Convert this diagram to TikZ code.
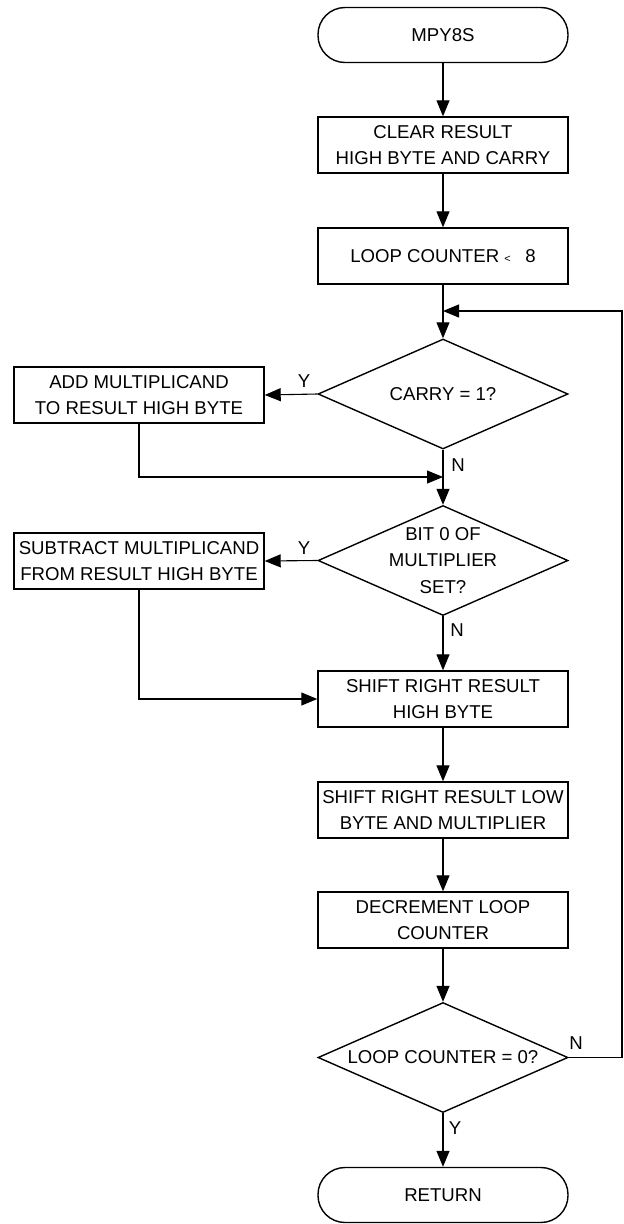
\documentclass[tikz,border=0pt]{standalone}
\usepackage{fontspec}
\setmainfont{Liberation Sans}
\usetikzlibrary{shapes.geometric,arrows.meta}
\begin{document}
\begin{tikzpicture}[x=1pt,y=-1pt,
  every node/.style={font=\fontsize{18.6}{26.5}\selectfont},
  box/.style={draw, line width=1.4pt, minimum width=250pt, minimum height=56pt, inner sep=2pt, align=center},
  term/.style={box, rounded corners=27pt, minimum height=55pt},
  dia/.style={draw, diamond, line width=1.4pt, minimum width=250pt, minimum height=110pt, inner sep=0pt},
  txt/.style={align=center},
  arr/.style={line width=1.1pt, -{Triangle[length=16pt,width=13pt]}},
  lbl/.style={inner sep=0pt}]
\useasboundingbox (0,0) rectangle (624,1224);
\node[term] (start) at (443,35) {MPY8S};
\node[box] (clear) at (443,145) {CLEAR RESULT\\HIGH BYTE AND CARRY};
\node[box] (lc) at (443,256) {LOOP COUNTER {\fontsize{11}{11}\selectfont<}\enspace\ 8};
\node[dia, label={[txt]center:CARRY = 1?}] (carry) at (443,394) {};
\node[box] (add) at (139,395) {ADD MULTIPLICAND\\TO RESULT HIGH BYTE};
\node[dia, label={[txt]center:BIT 0 OF\\MULTIPLIER\\SET?}] (bit) at (443,560.5) {};
\node[box] (sub) at (139,561) {SUBTRACT MULTIPLICAND\\FROM RESULT HIGH BYTE};
\node[box] (shh) at (443,699) {SHIFT RIGHT RESULT\\HIGH BYTE};
\node[box] (shl) at (443,810) {SHIFT RIGHT RESULT LOW\\BYTE AND MULTIPLIER};
\node[box] (dec) at (443,920) {DECREMENT LOOP\\COUNTER};
\node[dia, label={[txt]center:LOOP COUNTER = 0?}] (lz) at (443,1057.5) {};
\node[term] (ret) at (443,1195) {RETURN};
\coordinate (m1) at (443,477);
\coordinate (fb) at (443,311);
\coordinate (fbx) at (622,311);
\draw[arr] (start) -- (clear);
\draw[arr] (clear) -- (lc);
\draw[arr] (lc) -- (carry);
\draw[arr] (carry.west) -- (add.east);
\draw[arr] (carry.south) -- (bit.north);
\draw[arr] (add.south) |- (m1);
\draw[arr] (bit.west) -- (sub.east);
\draw[arr] (bit.south) -- (shh.north);
\draw[arr] (sub.south) |- (shh.west);
\draw[arr] (shh) -- (shl);
\draw[arr] (shl) -- (dec);
\draw[arr] (dec) -- (lz);
\draw[arr] (lz) -- (ret);
\draw[arr] (lz.east) -| (fbx) -- (fb);
\node[lbl] (y1) at (304,381) {Y};
\node[lbl] (n1) at (458,465) {N};
\node[lbl] (y2) at (304,548) {Y};
\node[lbl] (n2) at (457,630) {N};
\node[lbl] (n3) at (576,1043) {N};
\node[lbl] (y3) at (455,1128) {Y};
\end{tikzpicture}
\end{document}
